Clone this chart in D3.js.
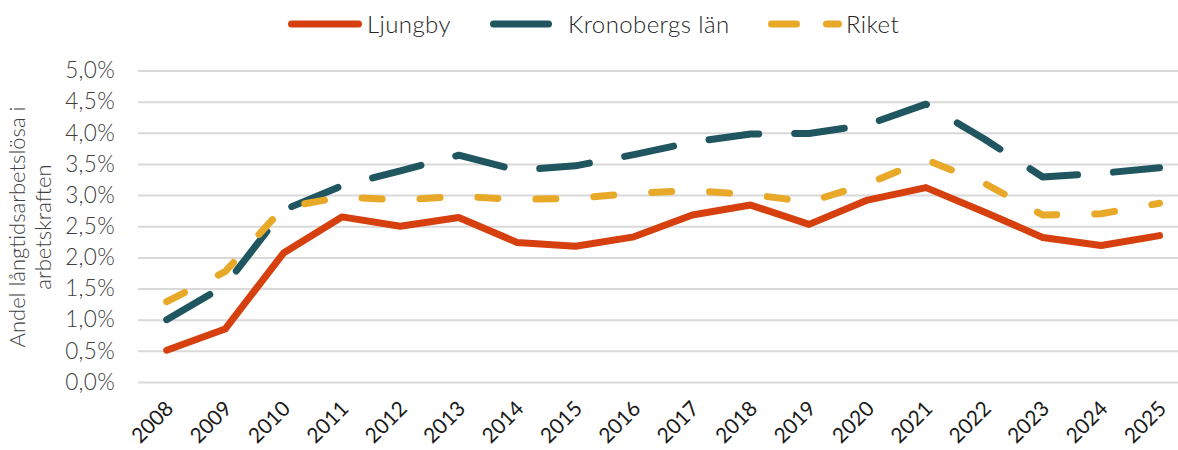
<!DOCTYPE html>
<html><head><meta charset="utf-8">
<script src="https://cdn.jsdelivr.net/npm/d3@7"></script>
<style>
html,body{margin:0;padding:0;background:#fff;}
svg{display:block;}
</style></head>
<body><svg id="c" width="1178" height="450"></svg>
<script>
const years = ["2008","2009","2010","2011","2012","2013","2014","2015","2016","2017","2018","2019","2020","2021","2022","2023","2024","2025"];
const ljungby = [0.51,0.85,2.07,2.65,2.50,2.64,2.24,2.18,2.33,2.68,2.84,2.53,2.92,3.12,2.73,2.32,2.19,2.35];
const kronoberg = [1.00,1.55,2.76,3.15,3.39,3.64,3.40,3.47,3.65,3.85,3.98,3.99,4.13,4.46,3.90,3.29,3.35,3.44];
const riket = [1.29,1.77,2.80,2.97,2.92,2.98,2.93,2.95,3.03,3.07,3.01,2.89,3.18,3.57,3.19,2.68,2.70,2.87];
const yTicks = [0,0.5,1,1.5,2,2.5,3,3.5,4,4.5,5];
const seriesNames = ["Ljungby","Kronobergs län","Riket"];
const colors = ["#D6400F","#1F5660","#E8A828"];

const svg = d3.select("#c");
const x = d3.scaleBand().domain(years).range([137.5, 137.5 + 18*58.4]);
const y = d3.scaleLinear().domain([0,5]).range([382,70.5]);
const cx = d => x(d) + x.bandwidth()/2;

// gridlines
const yAxis = d3.axisLeft(y).tickValues(yTicks).tickSize(-(1178-138)).tickPadding(23)
  .tickFormat(d => d3.format(".1f")(d).replace(".", ",") + "%");
const gy = svg.append("g").attr("transform","translate(138,0)").call(yAxis);
gy.select(".domain").remove();
gy.selectAll(".tick line").attr("stroke","#d9d9d9").attr("stroke-width",2);
gy.selectAll(".tick text").attr("font-family","Lato").attr("font-weight",300)
  .attr("font-size","22.5px").attr("fill","#404040").attr("letter-spacing","0.3px");

// x axis
const xAxis = d3.axisBottom(x).tickSize(0).tickPadding(0);
const gx = svg.append("g").attr("transform","translate(0,382)").call(xAxis);
gx.select(".domain").remove();
gx.selectAll(".tick text").attr("font-family","Lato").attr("font-size","21px").attr("fill","#1a1a1a")
  .attr("text-anchor","end").attr("dy","0").attr("transform","translate(8,28) rotate(-45)");

// y title
const yt = svg.append("text").attr("transform","translate(25,227) rotate(-90)")
  .attr("text-anchor","middle").attr("font-family","Lato").attr("font-weight",300)
  .attr("font-size","22px").attr("fill","#404040");
yt.append("tspan").attr("x",0).attr("dy",0).text("Andel långtidsarbetslösa i");
yt.append("tspan").attr("x",0).attr("dy","1.2em").text("arbetskraften");

const line = d3.line().x((d,i)=>cx(years[i])).y(d=>y(d));
const dashes = [null,"50,36","20,38"];
const data = [ljungby,kronoberg,riket];
data.forEach((s,i)=>{
  svg.append("path").datum(s).attr("d",line).attr("fill","none")
    .attr("stroke",colors[i]).attr("stroke-width",7)
    .attr("stroke-linecap","round").attr("stroke-linejoin","round")
    .attr("stroke-dasharray",dashes[i]);
});

// legend
const leg = [
  {x1:291.5,x2:358.5,tx:367,dash:null},
  {x1:493.5,x2:548.5,tx:568,dash:null},
  {x1:771.5,x2:838.5,tx:846,dash:"25,30,12,100"}
];
leg.forEach((l,i)=>{
  svg.append("line").attr("x1",l.x1).attr("x2",l.x2).attr("y1",24).attr("y2",24)
    .attr("stroke",colors[i]).attr("stroke-width",7).attr("stroke-linecap","round")
    .attr("stroke-dasharray",l.dash);
  svg.append("text").attr("x",l.tx).attr("y",33).attr("font-family","Lato").attr("font-weight",300)
    .attr("font-size","24px").attr("fill","#262626").attr("letter-spacing","0.4px").text(seriesNames[i]);
});
</script></body></html>
